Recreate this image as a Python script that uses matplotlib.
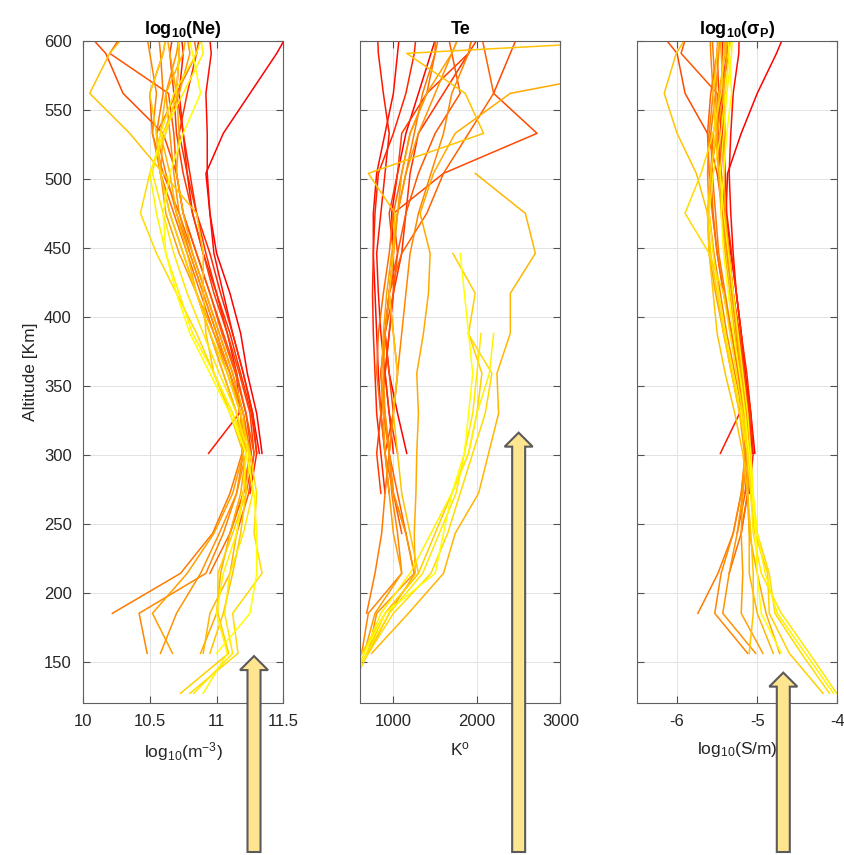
import numpy as np
import matplotlib
matplotlib.use('Agg')
import matplotlib.pyplot as plt
from matplotlib.patches import Polygon
from matplotlib.transforms import IdentityTransform

plt.rcParams['font.family'] = ['Liberation Sans', 'DejaVu Sans']
plt.rcParams['mathtext.fontset'] = 'custom'
plt.rcParams['mathtext.rm'] = 'Liberation Sans'
plt.rcParams['mathtext.it'] = 'Liberation Sans:italic'
plt.rcParams['mathtext.bf'] = 'Liberation Sans:bold'
plt.rcParams['mathtext.default'] = 'regular'
plt.rcParams['axes.unicode_minus'] = False

# altitude grid [km], each profile starts at start_alt and runs upwards
alt = [127, 156, 185, 214, 243, 272, 301, 330, 359, 388, 417, 446, 475, 504, 533, 562, 591, 620]
start_alt = [301, 301, 301, 272, 301, 272, 272, 243, 243, 214, 185,
             156, 156, 156, 156, 156, 156, 127, 127, 127, 127, 156]

ne = [
    [11.34, 11.30, 11.23, 11.18, 11.10, 11.00, 10.95, 10.92, 11.05, 11.25, 11.45, 11.62],
    [11.32, 11.27, 11.20, 11.12, 11.05, 10.98, 10.95, 10.93, 10.93, 10.92, 10.96, 10.93],
    [10.94, 11.17, 11.15, 11.08, 11.00, 10.90, 10.82, 10.78, 10.75, 10.72, 10.75, 10.72],
    [11.25, 11.30, 11.27, 11.20, 11.12, 11.03, 10.95, 10.85, 10.80, 10.75, 10.70, 10.72, 10.70],
    [11.30, 11.26, 11.18, 11.10, 11.00, 10.92, 10.85, 10.78, 10.72, 10.78, 10.85, 10.90],
    [11.22, 11.28, 11.25, 11.17, 11.08, 10.98, 10.90, 10.82, 10.75, 10.70, 10.68, 10.65, 10.70],
    [11.20, 11.26, 11.22, 11.15, 11.05, 10.95, 10.85, 10.75, 10.70, 10.60, 10.30, 10.17, 9.90],
    [11.15, 11.24, 11.28, 11.22, 11.14, 11.04, 10.95, 10.85, 10.75, 10.70, 10.68, 10.64, 10.20, 10.40],
    [11.10, 11.20, 11.25, 11.20, 11.12, 11.02, 10.92, 10.82, 10.72, 10.60, 10.52, 10.50, 10.60, 10.65],
    [10.95, 11.10, 11.20, 11.25, 11.20, 11.10, 10.98, 10.88, 10.78, 10.68, 10.58, 10.55, 10.70, 10.85, 10.80],
    [10.22, 10.73, 10.97, 11.10, 11.19, 11.18, 11.10, 11.00, 10.90, 10.80, 10.70, 10.62, 10.55, 10.60, 10.58, 10.55],
    [10.48, 10.42, 10.92, 11.05, 11.15, 11.20, 11.15, 11.05, 10.95, 10.85, 10.75, 10.65, 10.58, 10.52, 10.55, 10.50, 10.45],
    [10.58, 10.70, 10.88, 11.02, 11.15, 11.22, 11.18, 11.10, 11.00, 10.90, 10.80, 10.72, 10.68, 10.65, 10.62, 10.70, 10.75],
    [10.67, 10.52, 10.78, 10.98, 11.12, 11.20, 11.18, 11.08, 10.98, 10.85, 10.72, 10.62, 10.58, 10.60, 10.72, 10.80, 10.75],
    [10.88, 11.00, 11.03, 11.10, 11.18, 11.22, 11.20, 11.12, 11.02, 10.92, 10.82, 10.75, 10.70, 10.72, 10.70, 10.65, 10.60],
    [10.90, 10.95, 11.10, 11.15, 11.20, 11.22, 11.15, 11.05, 10.95, 10.85, 10.78, 10.70, 10.65, 10.58, 10.62, 10.75, 10.80],
    [10.95, 11.05, 11.12, 11.18, 11.22, 11.20, 11.10, 10.98, 10.92, 10.90, 10.90, 10.85, 10.60, 10.35, 10.05, 10.20, 10.45],
    [10.73, 11.09, 11.01, 11.01, 11.12, 11.22, 11.25, 11.18, 11.08, 10.95, 10.85, 10.75, 10.65, 10.58, 10.55, 10.50, 10.60, 10.65],
    [10.80, 11.16, 11.12, 11.34, 11.28, 11.30, 11.25, 11.12, 10.98, 10.85, 10.70, 10.55, 10.43, 10.50, 10.62, 10.70, 10.72, 10.70],
    [10.83, 11.12, 11.06, 11.10, 11.20, 11.27, 11.24, 11.15, 11.02, 10.90, 10.78, 10.68, 10.60, 10.52, 10.58, 10.68, 10.85, 10.95],
    [10.90, 11.08, 11.00, 11.05, 11.15, 11.20, 11.22, 11.12, 10.98, 10.82, 10.72, 10.62, 10.55, 10.50, 10.60, 10.75, 10.90, 10.85],
    [11.00, 11.25, 11.30, 11.30, 11.28, 11.22, 11.10, 10.95, 10.80, 10.70, 10.62, 10.60, 10.65, 10.75, 10.88, 10.82, 10.75],
]

te = [
    [1160, 1050, 950, 900, 950, 1000, 980, 1050, 1150, 1300, 1450, 1600],
    [900, 850, 820, 800, 780, 760, 760, 800, 900, 1000, 1050, 1100],
    [1000, 950, 900, 850, 820, 800, 850, 900, 950, 880, 820, 800],
    [900, 850, 800, 780, 760, 750, 760, 780, 820, 1000, 1150, 1250, 1300],
    [1050, 950, 900, 950, 1000, 1100, 1150, 1200, 1300, 1600, 1900, 2000],
    [850, 800, 850, 900, 950, 1000, 1000, 950, 1050, 1100, 1400, 1900, 2200],
    [950, 900, 1000, 950, 900, 950, 1050, 1000, 1600, 2720, 2200, 2400, 2600],
    [1100, 1000, 950, 900, 850, 900, 1000, 1050, 1150, 1300, 1500, 1800, 1700, 1600],
    [1150, 1050, 950, 880, 850, 900, 950, 1100, 1400, 1600, 1900, 2200, 2100, 2000],
    [1250, 1150, 1000, 900, 850, 800, 820, 880, 950, 1000, 1100, 1200, 1400, 1500, 1500],
    [680, 780, 860, 900, 950, 1000, 1050, 1000, 950, 1000, 1050, 1150, 1250, 1350, 1500, 1600],
    [620, 700, 1100, 1050, 980, 950, 1000, 1050, 1100, 1150, 1200, 1300, 1450, 1600, 1700, 1900, 2000],
    [700, 800, 1250, 1150, 1000, 950, 900, 880, 900, 950, 1000, 1050, 1150, 1300, 1500, 1700, 1900],
    [650, 780, 1100, 1000, 950, 900, 880, 860, 880, 920, 980, 1050, 1100, 1200, 1400, 1700, 1900],
    [700, 950, 1260, 1250, 1270, 1280, 1300, 1280, 1360, 1420, 1440, 1320, 1480, 1740, 2400, 4900],
    [740, 1180, 1600, 1740, 2020, 2140, 2260, 2240, 2400, 2400, 2700, 2580, 1980],
    [680, 900, 1300, 1200, 1100, 1050, 1000, 1050, 1000, 950, 1000, 1020, 700, 2080, 1860, 1160, 10000],
    [420, 620, 900, 1300, 1500, 1700, 1900, 2000, 2060, 1900, 1980, 1712],
    [450, 700, 1000, 1450, 1650, 1800, 1950, 2100, 2180, 1892],
    [400, 680, 950, 1350, 1550, 1750, 1850, 1950, 2000, 2050],
    [430, 650, 850, 1200, 1450, 1700, 1900, 2000, 2150, 2200],
    [650, 900, 1500, 1600, 1700, 1850, 1900, 1950, 1900, 1850, 1800],
]

sigma = [
    [-5.03, -5.08, -5.15, -5.20, -5.26, -5.33, -5.39, -5.37, -5.20, -5.00, -4.76, -4.55],
    [-5.06, -5.10, -5.15, -5.20, -5.26, -5.30, -5.33, -5.35, -5.33, -5.30, -5.23, -5.22],
    [-5.46, -5.22, -5.22, -5.26, -5.30, -5.36, -5.42, -5.45, -5.43, -5.45, -5.42, -5.40],
    [-5.10, -5.05, -5.08, -5.13, -5.20, -5.26, -5.32, -5.38, -5.40, -5.42, -5.44, -5.43, -5.45],
    [-5.08, -5.12, -5.18, -5.24, -5.30, -5.36, -5.40, -5.45, -5.50, -5.45, -5.38, -5.35],
    [-5.15, -5.08, -5.10, -5.16, -5.22, -5.30, -5.35, -5.40, -5.45, -5.45, -5.48, -5.50, -5.45],
    [-5.15, -5.10, -5.12, -5.17, -5.23, -5.30, -5.37, -5.43, -5.50, -5.62, -5.90, -6.00, -6.40],
    [-5.20, -5.12, -5.10, -5.13, -5.18, -5.24, -5.30, -5.36, -5.42, -5.45, -5.48, -5.50, -5.95, -5.80],
    [-5.25, -5.15, -5.10, -5.14, -5.22, -5.32, -5.42, -5.50, -5.56, -5.60, -5.62, -5.58, -5.50, -5.48],
    [-5.35, -5.20, -5.12, -5.10, -5.15, -5.22, -5.32, -5.42, -5.50, -5.55, -5.58, -5.55, -5.45, -5.35, -5.35],
    [-5.74, -5.49, -5.30, -5.20, -5.15, -5.17, -5.24, -5.32, -5.40, -5.48, -5.52, -5.56, -5.58, -5.52, -5.55, -5.58],
    [-5.12, -5.53, -5.45, -5.30, -5.20, -5.14, -5.18, -5.28, -5.38, -5.46, -5.54, -5.60, -5.62, -5.60, -5.55, -5.58, -5.60],
    [-5.02, -5.43, -5.35, -5.25, -5.18, -5.12, -5.14, -5.20, -5.26, -5.32, -5.38, -5.44, -5.48, -5.50, -5.52, -5.48, -5.45],
    [-4.93, -5.20, -5.18, -5.20, -5.18, -5.16, -5.22, -5.32, -5.42, -5.52, -5.60, -5.62, -5.58, -5.50, -5.42, -5.38, -5.40],
    [-4.72, -4.89, -5.00, -5.10, -5.12, -5.12, -5.15, -5.20, -5.25, -5.30, -5.35, -5.40, -5.42, -5.40, -5.42, -5.45, -5.48],
    [-4.80, -5.00, -5.10, -5.10, -5.12, -5.12, -5.16, -5.22, -5.28, -5.34, -5.40, -5.45, -5.48, -5.52, -5.48, -5.40, -5.35],
    [-5.10, -5.05, -5.05, -5.08, -5.12, -5.18, -5.28, -5.40, -5.50, -5.55, -5.60, -5.62, -5.76, -6.00, -6.16, -6.01, -5.70],
    [-4.18, -4.60, -4.85, -4.87, -5.03, -5.08, -5.12, -5.22, -5.32, -5.42, -5.50, -5.58, -5.62, -5.58, -5.52, -5.55, -5.50, -5.45],
    [-4.10, -4.45, -4.78, -4.85, -5.00, -5.06, -5.10, -5.18, -5.26, -5.34, -5.42, -5.60, -5.90, -5.70, -5.55, -5.45, -5.42, -5.40],
    [-4.01, -4.35, -4.70, -4.95, -5.05, -5.08, -5.12, -5.20, -5.30, -5.40, -5.48, -5.55, -5.60, -5.55, -5.45, -5.40, -5.35, -5.30],
    [-4.05, -4.40, -4.75, -4.90, -5.00, -5.05, -5.08, -5.12, -5.18, -5.24, -5.30, -5.36, -5.42, -5.46, -5.42, -5.38, -5.32, -5.30],
    [-4.70, -4.95, -5.00, -5.02, -5.06, -5.10, -5.15, -5.22, -5.30, -5.36, -5.42, -5.45, -5.42, -5.38, -5.32, -5.35, -5.40],
]

titles = ['log$_{10}$(Ne)', 'Te', 'log$_{10}$($\\sigma_P$)']
xlabels = ['log$_{10}$(m$^{-3}$)', 'K$^o$', 'log$_{10}$(S/m)']
xlims = [(10, 11.5), (600, 3000), (-6.5, -4)]
xticks = [[10, 10.5, 11, 11.5], [1000, 2000, 3000], [-6, -5, -4]]
xticklabels = [['10', '10.5', '11', '11.5'], ['1000', '2000', '3000'], ['-6', '-5', '-4']]
yticks = [150, 200, 250, 300, 350, 400, 450, 500, 550, 600]
arrow_x = [11.28, 2500, -4.675]
arrow_tip = [154, 316, 142]

colors = plt.cm.autumn(np.linspace(0, 1, len(start_alt)))

fig = plt.figure(figsize=(8.44, 8.55), dpi=100)
lefts = [0.0983, 0.4265, 0.7547]
axes = [fig.add_axes([l, 0.1778, 0.2375, 0.7743]) for l in lefts]

for k, (ax, data) in enumerate(zip(axes, [ne, te, sigma])):
    for i, vals in enumerate(data):
        i0 = alt.index(start_alt[i])
        ax.plot(vals, alt[i0:i0 + len(vals)], color=colors[i], lw=1.1)
    ax.set_xlim(xlims[k])
    ax.set_ylim(120, 600)
    ax.set_xticks(xticks[k])
    ax.set_xticklabels(xticklabels[k])
    ax.set_yticks(yticks)
    if k > 0:
        ax.set_yticklabels([])
    ax.grid(True, color='#e3e3e3', lw=0.7)
    ax.set_axisbelow(True)
    ax.tick_params(direction='in', top=True, right=True, length=5, width=0.8,
                   color='#505050', labelsize=12, labelcolor='#262626', pad=8)
    for s in ax.spines.values():
        s.set_color('#606060')
        s.set_linewidth(0.8)
    ax.set_title(titles[k], fontsize=13, fontweight='bold', pad=5)
    ax.set_xlabel(xlabels[k], fontsize=12.5, color='#262626', labelpad=8)

axes[0].set_ylabel('Altitude [Km]', fontsize=12.5, color='#262626', labelpad=4)


def draw_arrow(ax, x, y_tip):
    cx, ty = ax.transData.transform((x, y_tip))
    sw, hw, hl, by = 13, 28, 14, 3
    pts = [(cx - sw / 2, by), (cx + sw / 2, by), (cx + sw / 2, ty - hl),
           (cx + hw / 2, ty - hl), (cx, ty), (cx - hw / 2, ty - hl),
           (cx - sw / 2, ty - hl)]
    fig.add_artist(Polygon(pts, closed=True, transform=IdentityTransform(),
                           facecolor='#ffe58f', edgecolor='#5a5a5a', lw=1.5, zorder=10))


for ax, x, y in zip(axes, arrow_x, arrow_tip):
    draw_arrow(ax, x, y)

fig.savefig('out.png', dpi=100)
